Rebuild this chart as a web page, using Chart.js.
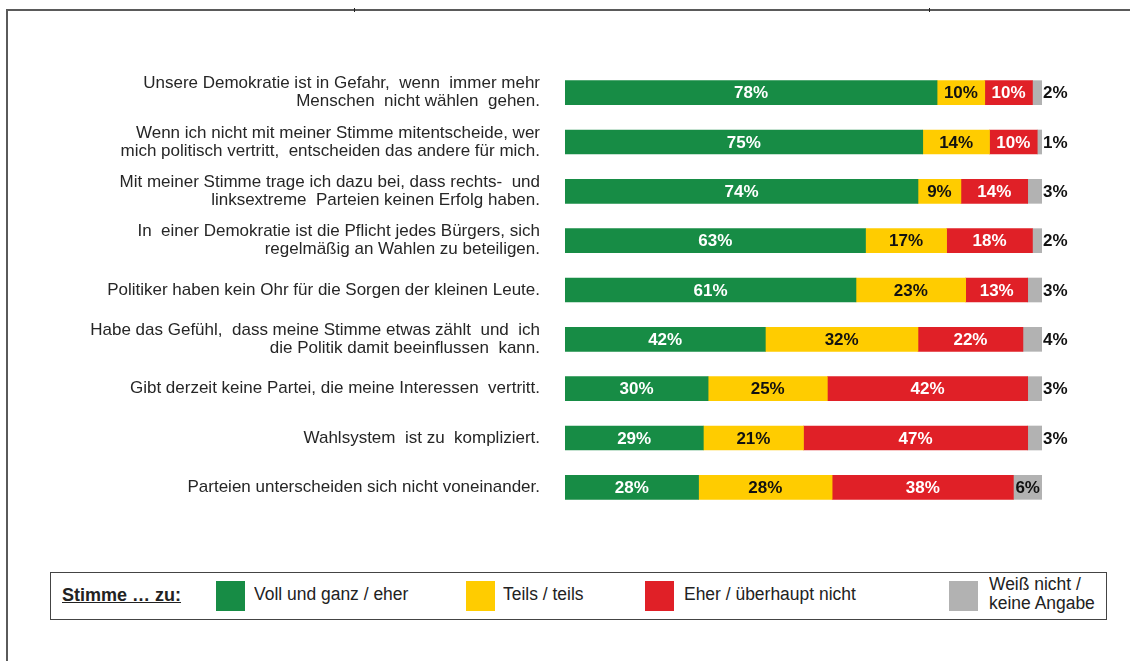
<!DOCTYPE html>
<html lang="de">
<head>
  <meta charset="UTF-8" />
  <title>Wahlbeteiligung – Einstellungen</title>
  <script src="https://cdn.jsdelivr.net/npm/chart.js"></script>
  <style>
    *{margin:0;padding:0;box-sizing:border-box}
    html,body{width:1130px;height:661px;background:#fff;font-family:"Liberation Sans",Arial,sans-serif;overflow:hidden}
    .wrap{position:relative;width:1130px;height:661px}
    .frame-top{position:absolute;left:7px;top:9px;width:1123px;height:2px;background:#5a5a5a}
    .frame-left{position:absolute;left:6px;top:9px;width:2px;height:652px;background:#5a5a5a}
    .tick{position:absolute;top:8px;width:1px;height:4px;background:#222}
    canvas{position:absolute;left:0;top:0}
    .legend{position:absolute;left:50px;top:572px;width:1057px;height:48px;border:1px solid #444;background:#fff;font-size:18px;color:#222}
    .legend .title{position:absolute;left:11px;top:12px;font-weight:bold;text-decoration:underline}
    .legend .sw{position:absolute;top:8px;width:29px;height:30px}
    .legend .lbl{position:absolute;top:11px;transform:scaleX(0.97);transform-origin:left}
    .legend .lbl2{position:absolute;top:2px;line-height:19px;transform:scaleX(0.97);transform-origin:left}
  </style>
</head>
<body>
<div class="wrap">
  <div class="frame-top"></div>
  <div class="frame-left"></div>
  <div class="tick" style="left:354px"></div>
  <div class="tick" style="left:929px"></div>
  <canvas id="chart" width="1130" height="661"></canvas>
  <div class="legend" id="legend"></div>
</div>

<script>
  // statements (y categories)
  const statements = [
    ['Unsere Demokratie ist in Gefahr,  wenn  immer mehr', 'Menschen  nicht wählen  gehen.'],
    ['Wenn ich nicht mit meiner Stimme mitentscheide, wer', 'mich politisch vertritt,  entscheiden das andere für mich.'],
    ['Mit meiner Stimme trage ich dazu bei, dass rechts-  und', 'linksextreme  Parteien keinen Erfolg haben.'],
    ['In  einer Demokratie ist die Pflicht jedes Bürgers, sich', 'regelmäßig an Wahlen zu beteiligen.'],
    'Politiker haben kein Ohr für die Sorgen der kleinen Leute.',
    ['Habe das Gefühl,  dass meine Stimme etwas zählt  und  ich', 'die Politik damit beeinflussen  kann.'],
    'Gibt derzeit keine Partei, die meine Interessen  vertritt.',
    'Wahlsystem  ist zu  kompliziert.',
    'Parteien unterscheiden sich nicht voneinander.'
  ];

  // answer shares in percent
  const agree    = [78, 75, 74, 63, 61, 42, 30, 29, 28];
  const partly   = [10, 14,  9, 17, 23, 32, 25, 21, 28];
  const disagree = [10, 10, 14, 18, 13, 22, 42, 47, 38];
  const dontKnow = [ 2,  1,  3,  2,  3,  4,  3,  3,  6];

  const seriesNames = ['Voll und ganz / eher', 'Teils / teils', 'Eher / überhaupt nicht', 'Weiß nicht / keine Angabe'];
  const colors = ['#178c45', '#ffcc00', '#e02027', '#b2b2b2'];
  const labelColors = ['#ffffff', '#111111', '#ffffff', '#111111'];

  const valueLabels = {
    id: 'valueLabels',
    afterDatasetsDraw(chart) {
      const ctx = chart.ctx;
      ctx.save();
      ctx.font = 'bold 17px "Liberation Sans", Arial, sans-serif';
      ctx.textBaseline = 'middle';
      chart.data.datasets.forEach((ds, di) => {
        const meta = chart.getDatasetMeta(di);
        meta.data.forEach((bar, i) => {
          const v = ds.data[i];
          const txt = v + '%';
          if (di === 3 && v < 5) {
            ctx.fillStyle = '#111';
            ctx.textAlign = 'left';
            ctx.fillText(txt, bar.x + 1, bar.y + 1);
          } else {
            ctx.fillStyle = labelColors[di];
            ctx.textAlign = 'center';
            ctx.fillText(txt, (bar.x + bar.base) / 2, bar.y + 1);
          }
        });
      });
      ctx.restore();
    }
  };

  new Chart(document.getElementById('chart'), {
    type: 'bar',
    data: {
      labels: statements,
      datasets: [agree, partly, disagree, dontKnow].map((d, i) => ({
        label: seriesNames[i],
        data: d,
        backgroundColor: colors[i],
        borderWidth: 0,
        barThickness: 24
      }))
    },
    options: {
      indexAxis: 'y',
      responsive: false,
      animation: false,
      layout: { padding: { top: 68, bottom: 149, right: 88, left: 0 } },
      plugins: { legend: { display: false }, tooltip: { enabled: false } },
      scales: {
        x: { stacked: true, min: 0, max: 100, display: false },
        y: {
          stacked: true,
          grid: { display: false, drawTicks: false },
          border: { display: false },
          ticks: {
            color: '#262626',
            padding: 25,
            font: { family: '"Liberation Sans", Arial, sans-serif', size: 17, lineHeight: 1.06 }
          },
          afterFit(scale) { scale.width = 565; }
        }
      }
    },
    plugins: [valueLabels]
  });

  // legend box
  const legendPos = [
    { sw: 165, lbl: 203 },
    { sw: 415, lbl: 452 },
    { sw: 594, lbl: 633 },
    { sw: 898, lbl: 938 }
  ];
  const legend = document.getElementById('legend');
  let html = '<div class="title">Stimme … zu:</div>';
  seriesNames.forEach((name, i) => {
    html += '<div class="sw" style="left:' + legendPos[i].sw + 'px;background:' + colors[i] + '"></div>';
    if (i === 3) {
      html += '<div class="lbl2" style="left:' + legendPos[i].lbl + 'px">Weiß nicht /<br>keine Angabe</div>';
    } else {
      html += '<div class="lbl" style="left:' + legendPos[i].lbl + 'px">' + name + '</div>';
    }
  });
  legend.innerHTML = html;
</script>
</body>
</html>
